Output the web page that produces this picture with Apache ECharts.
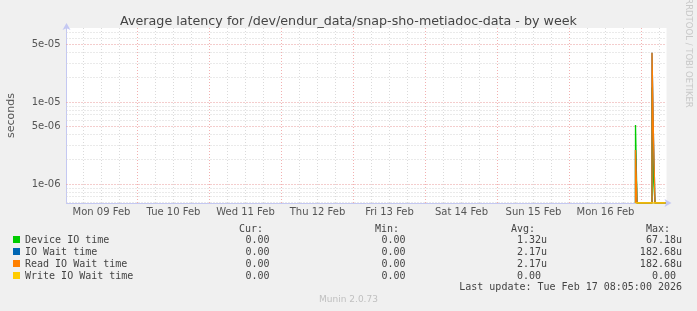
<!DOCTYPE html>
<html><head><meta charset="utf-8">
<script src="https://cdn.jsdelivr.net/npm/echarts@6/dist/echarts.min.js"></script>
<style>html,body{margin:0;padding:0;background:#f0f0f0;}#c{width:697px;height:311px;}</style>
</head><body><div id="c"></div>
<script>
// ---- data (30-minute averages; value covers the interval ending at the timestamp) ----
const times = [
  '2026-02-16T22:00:00Z','2026-02-16T22:30:00Z','2026-02-16T23:00:00Z','2026-02-16T23:30:00Z',
  '2026-02-17T00:00:00Z','2026-02-17T00:30:00Z','2026-02-17T01:00:00Z','2026-02-17T01:30:00Z',
  '2026-02-17T02:00:00Z','2026-02-17T02:30:00Z','2026-02-17T03:00:00Z','2026-02-17T03:30:00Z',
  '2026-02-17T04:00:00Z','2026-02-17T04:30:00Z','2026-02-17T05:00:00Z','2026-02-17T05:30:00Z',
  '2026-02-17T06:00:00Z','2026-02-17T06:30:00Z','2026-02-17T07:00:00Z','2026-02-17T07:30:00Z',
  '2026-02-17T08:00:00Z'
];
const deviceIOTime = [0, 5.24e-6, 0, 0, 0, 0, 0, 0, 0, 0, 0, 0, 1.5e-5, 1.17e-6, 0, 0, 0, 0, 0, 0, 0];
const ioWaitTime   = [0, 2.60e-6, 0, 0, 0, 0, 0, 0, 0, 0, 0, 0, 3.99e-5, 3.54e-6, 0, 0, 0, 0, 0, 0, 0];
const readIOWait   = [0, 2.60e-6, 0, 0, 0, 0, 0, 0, 0, 0, 0, 0, 3.99e-5, 3.54e-6, 0, 0, 0, 0, 0, 0, 0];
const writeIOWait  = [0, 0, 0, 0, 0, 0, 0, 0, 0, 0, 0, 0, 0, 0, 0, 0, 0, 0, 0, 0, 0];

const dayLabelTimes = ['2026-02-09T12:00:00Z','2026-02-10T12:00:00Z','2026-02-11T12:00:00Z','2026-02-12T12:00:00Z',
  '2026-02-13T12:00:00Z','2026-02-14T12:00:00Z','2026-02-15T12:00:00Z','2026-02-16T12:00:00Z'];
const dayLabels = ['Mon 09 Feb','Tue 10 Feb','Wed 11 Feb','Thu 12 Feb','Fri 13 Feb','Sat 14 Feb','Sun 15 Feb','Mon 16 Feb'];
const yTickValues = [1e-6, 5e-6, 1e-5, 5e-5];
const yTickLabels = ['1e-06', '5e-06', '1e-05', '5e-05'];

const seriesNames = ['Device IO time', 'IO Wait time', 'Read IO Wait time', 'Write IO Wait time'];
const curValues = ['0.00 ', '0.00 ', '0.00 ', '0.00 '];
const minValues = ['0.00 ', '0.00 ', '0.00 ', '0.00 '];
const avgValues = ['1.32u', '2.17u', '2.17u', '0.00 '];
const maxValues = ['67.18u', '182.68u', '182.68u', '0.00 '];
const seriesColors = ['#00cc00', '#0066b3', '#ff8000', '#ffcc00'];

// ---- layout / scale ----
const H = 3600e3;
const xMin = Date.parse('2026-02-09T00:20:00Z');
const xMax = Date.parse('2026-02-17T08:20:00Z');
const yMin = 5.87e-7, yMax = 7.99e-5;
const floorZero = v => (v > 0 ? v : yMin); // rrdtool draws zero at the floor of a log axis
const pts = arr => times.map((t, i) => [Date.parse(t), floorZero(arr[i])]);
const labelTs = dayLabelTimes.map(t => Date.parse(t));

const vMinor = [], vMajor = [], hMinor = [], hMajor = [];
for (let t = Date.parse('2026-02-09T06:00:00Z'); t < xMax; t += 6 * H) {
  const seg = [{ coord: [t, yMin] }, { coord: [t, yMax] }];
  (new Date(t).getUTCHours() === 0 ? vMajor : vMinor).push(seg);
}
for (const d of [1e-7, 1e-6, 1e-5]) {
  for (let m = 2; m <= 9; m++) {
    const v = m * d;
    if (m !== 5 && v > yMin && v < yMax) hMinor.push([{ coord: [xMin, v] }, { coord: [xMax, v] }]);
  }
}
yTickValues.forEach((v, i) => hMajor.push([
  { coord: [xMin, v], label: { show: true, position: 'start', formatter: yTickLabels[i], distance: 6,
                               color: '#555', fontSize: 10, fontFamily: 'DejaVu Sans' } },
  { coord: [xMax, v] }
]));

const gridSeries = (data, color, z) => ({
  type: 'line', data: [[xMin, yMin]], symbol: 'none', lineStyle: { opacity: 0 }, z: z, silent: true,
  markLine: { silent: true, symbol: ['none', 'none'], animation: false, z: z, label: { show: false },
              lineStyle: { color: color, type: [1, 2], width: 1, opacity: 1 }, data: data }
});

const axisLineStyle = { color: '#c4c8f2', width: 1 };

const chart = echarts.init(document.getElementById('c'));

const legendGraphics = [];
const rowY = [240, 252, 264, 276];
const mono = '10px "DejaVu Sans Mono"';
const txt = (text, x, y, align, font, fill) => ({
  type: 'text', x: x, y: y, silent: true,
  style: { text: text, align: align, textAlign: align, verticalAlign: 'middle', textVerticalAlign: 'middle',
           font: font, fill: fill }
});
legendGraphics.push(txt('Cur:', 263, 229, 'right', mono, '#444'));
legendGraphics.push(txt('Min:', 399, 229, 'right', mono, '#444'));
legendGraphics.push(txt('Avg:', 535, 229, 'right', mono, '#444'));
legendGraphics.push(txt('Max:', 670, 229, 'right', mono, '#444'));
seriesNames.forEach((n, i) => {
  legendGraphics.push({ type: 'rect', silent: true, shape: { x: 13, y: rowY[i] - 4, width: 7, height: 7 },
                        style: { fill: seriesColors[i] } });
  legendGraphics.push(txt(n, 25, rowY[i], 'left', mono, '#444'));
  legendGraphics.push(txt(curValues[i], 275.5, rowY[i], 'right', mono, '#444'));
  legendGraphics.push(txt(minValues[i], 411.5, rowY[i], 'right', mono, '#444'));
  legendGraphics.push(txt(avgValues[i], 547, rowY[i], 'right', mono, '#444'));
  legendGraphics.push(txt(maxValues[i], 682, rowY[i], 'right', mono, '#444'));
});
legendGraphics.push(txt('Last update: Tue Feb 17 08:05:00 2026', 682, 287, 'right', mono, '#444'));
legendGraphics.push(txt('Munin 2.0.73', 348.5, 300, 'center', '9px "DejaVu Sans"', '#c0c0c0'));
legendGraphics.push({ type: 'text', x: 688, y: 53, rotation: -Math.PI / 2, silent: true,
  style: { text: 'RRDTOOL / TOBI OETIKER', align: 'center', textAlign: 'center', verticalAlign: 'middle',
           textVerticalAlign: 'middle', font: '8.5px "DejaVu Sans"', fill: '#c8c8c8' } });

const dataSeries = [deviceIOTime, ioWaitTime, readIOWait, writeIOWait].map((arr, i) => ({
  name: seriesNames[i], type: 'line', step: 'start', showSymbol: false, symbol: 'none',
  data: pts(arr), z: 10 + i, color: seriesColors[i],
  lineStyle: { color: seriesColors[i], width: 1.3 }
}));

chart.setOption({
  animation: false,
  backgroundColor: '#f0f0f0',
  title: {
    text: 'Average latency for /dev/endur_data/snap-sho-metiadoc-data - by week',
    left: 'center', top: 10,
    textStyle: { fontFamily: 'DejaVu Sans', fontSize: 12.7, fontWeight: 'normal', color: '#444' }
  },
  grid: { left: 66.5, top: 28, width: 600, height: 175, show: true, backgroundColor: '#ffffff', borderWidth: 0,
          containLabel: false, outerBoundsMode: 'none' },
  xAxis: {
    type: 'value', min: xMin, max: xMax,
    axisLine: { show: true, lineStyle: axisLineStyle, symbol: ['none', 'arrow'], symbolSize: [6, 7], symbolOffset: [0, 5] },
    axisTick: { show: false },
    splitLine: { show: false },
    axisLabel: {
      customValues: labelTs,
      formatter: v => { const i = labelTs.indexOf(v); return i >= 0 ? dayLabels[i] : ''; },
      color: '#555', fontFamily: 'DejaVu Sans', fontSize: 10, margin: 4, hideOverlap: false
    }
  },
  yAxis: {
    type: 'log', logBase: 10, min: yMin, max: yMax,
    name: 'seconds', nameLocation: 'middle', nameRotate: 90, nameGap: 49.5,
    nameTextStyle: { color: '#555', fontFamily: 'DejaVu Sans', fontSize: 11 },
    axisLine: { show: true, lineStyle: axisLineStyle, symbol: ['none', 'arrow'], symbolSize: [6, 7], symbolOffset: [0, 5] },
    axisTick: { show: false },
    splitLine: { show: false },
    axisLabel: { show: false }
  },
  graphic: legendGraphics,
  series: [
    gridSeries(vMinor, '#dadada', 1),
    gridSeries(hMinor, '#d4d4d4', 2),
    gridSeries(vMajor, '#f2b0b0', 3),
    gridSeries(hMajor, '#e99a9a', 4)
  ].concat(dataSeries)
});
</script></body></html>
